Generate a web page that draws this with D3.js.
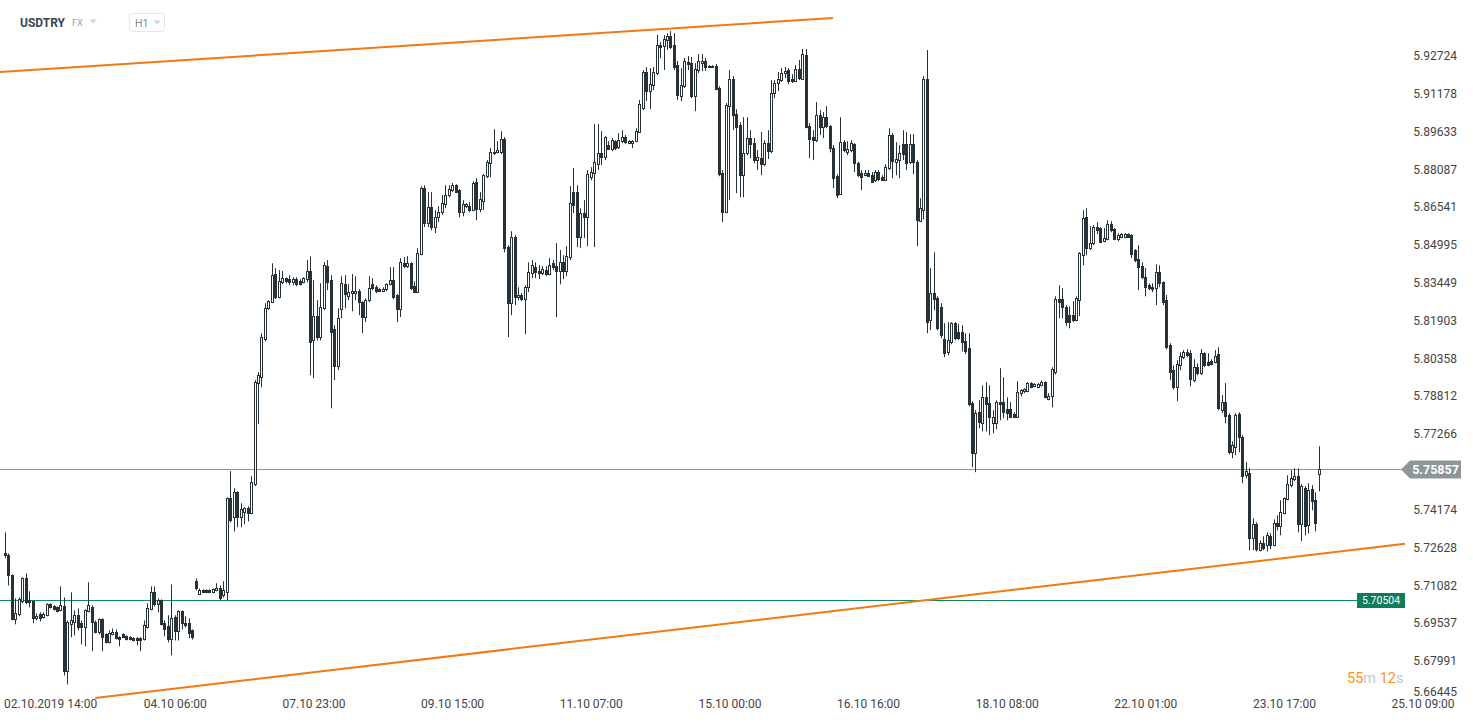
<!DOCTYPE html>
<html><head><meta charset="utf-8">
<script src="https://cdn.jsdelivr.net/npm/d3@7"></script>
<style>
body{margin:0;background:#fff;overflow:hidden}
text{font-family:Roboto,"Noto Sans",sans-serif}
</style>
</head><body>
<svg id="c" width="1473" height="723"></svg>
<script>
const symbol = "USDTRY", market = "FX", interval = "H1";
const yTickLabels = ["5.92724","5.91178","5.89633","5.88087","5.86541","5.84995","5.83449","5.81903","5.80358","5.78812","5.77266","5.74174","5.72628","5.71082","5.69537","5.67991","5.66445"];
const xTickIndex = [9,49,89,129,169,209,249,289,329,369,409];
const xTickLabels = ["02.10.2019 14:00","04.10 06:00","07.10 23:00","09.10 15:00","11.10 07:00","15.10 00:00","16.10 16:00","18.10 08:00","22.10 01:00","23.10 17:00","25.10 09:00"];
const lastPrice = 5.75857;
const levelPrice = 5.70504;
const countdown = [["55","num"],["m","unit"],[" 12","num"],["s","unit"]];
const trendUpper = [[-1.44,5.9207],[238.9,5.9428]];
const trendLower = [[26.0,5.6648],[403.9,5.7278]];
// hourly candles: [open, high, low, close]
const ohlc = [
[5.7239,5.7325,5.7219,5.7231],[5.7231,5.7239,5.7108,5.7149],[5.7149,5.7153,5.6965,5.6969],[5.6969,5.7055,5.6949,5.6994],[5.6990,5.7059,5.6982,5.7051],
[5.7043,5.7141,5.7035,5.7137],[5.7137,5.7157,5.7031,5.7039],[5.7047,5.7084,5.7018,5.7039],[5.7043,5.7047,5.6953,5.6973],[5.6973,5.6994,5.6965,5.6982],
[5.6990,5.6998,5.6961,5.6973],[5.6978,5.6998,5.6973,5.6990],[5.6986,5.7035,5.6982,5.7031],[5.7031,5.7035,5.7014,5.7018],[5.7022,5.7027,5.7006,5.7010],
[5.7018,5.7022,5.6998,5.7002],[5.7006,5.7104,5.7002,5.7027],[5.7022,5.7059,5.6740,5.6757],[5.6757,5.6965,5.6703,5.6957],[5.6949,5.7080,5.6896,5.6965],
[5.6957,5.7006,5.6904,5.6986],[5.6986,5.7014,5.6924,5.6937],[5.6953,5.6965,5.6867,5.6937],[5.6937,5.7010,5.6859,5.7006],[5.7002,5.7121,5.6998,5.7027],
[5.7018,5.7027,5.6839,5.6957],[5.6957,5.6965,5.6912,5.6916],[5.6916,5.6973,5.6908,5.6969],[5.6969,5.6973,5.6839,5.6896],[5.6908,5.6912,5.6871,5.6875],
[5.6875,5.6924,5.6871,5.6912],[5.6908,5.6932,5.6904,5.6916],[5.6916,5.6928,5.6887,5.6892],[5.6896,5.6900,5.6859,5.6887],[5.6908,5.6912,5.6892,5.6896],
[5.6900,5.6904,5.6883,5.6887],[5.6896,5.6900,5.6883,5.6887],[5.6892,5.6896,5.6879,5.6883],[5.6892,5.6896,5.6863,5.6883],[5.6892,5.6896,5.6839,5.6883],
[5.6887,5.6965,5.6883,5.6945],[5.6937,5.7035,5.6932,5.7014],[5.7010,5.7104,5.7006,5.7080],[5.7080,5.7104,5.7022,5.7031],[5.7031,5.7055,5.6998,5.7047],
[5.7047,5.7051,5.6945,5.6949],[5.6953,5.6965,5.6900,5.6928],[5.6941,5.6986,5.6875,5.6887],[5.6887,5.7112,5.6822,5.6973],[5.6978,5.6986,5.6883,5.6920],
[5.6920,5.7006,5.6883,5.7002],[5.7002,5.7006,5.6928,5.6953],[5.6953,5.6982,5.6937,5.6945],[5.6953,5.6973,5.6892,5.6912],[5.6924,5.6928,5.6887,5.6896],
[5.7125,5.7137,5.7088,5.7096],[5.7072,5.7096,5.7068,5.7088],[5.7088,5.7092,5.7076,5.7080],[5.7088,5.7092,5.7076,5.7080],[5.7088,5.7092,5.7076,5.7080],
[5.7080,5.7096,5.7076,5.7092],[5.7088,5.7117,5.7084,5.7096],[5.7096,5.7108,5.7047,5.7055],[5.7068,5.7125,5.7059,5.7088],[5.7080,5.7468,5.7047,5.7464],
[5.7464,5.7575,5.7366,5.7374],[5.7387,5.7505,5.7329,5.7489],[5.7489,5.7493,5.7346,5.7387],[5.7387,5.7444,5.7346,5.7419],[5.7407,5.7427,5.7358,5.7423],
[5.7423,5.7431,5.7370,5.7403],[5.7403,5.7554,5.7399,5.7530],[5.7522,5.7947,5.7514,5.7939],[5.7935,5.7980,5.7767,5.7967],[5.7959,5.8139,5.7918,5.8123],
[5.8115,5.8262,5.8106,5.8241],[5.8241,5.8274,5.8233,5.8270],[5.8266,5.8425,5.8262,5.8376],[5.8380,5.8405,5.8278,5.8286],[5.8286,5.8397,5.8282,5.8351],
[5.8347,5.8393,5.8339,5.8364],[5.8364,5.8368,5.8343,5.8351],[5.8360,5.8376,5.8335,5.8347],[5.8347,5.8368,5.8335,5.8360],[5.8360,5.8368,5.8331,5.8339],
[5.8351,5.8360,5.8335,5.8339],[5.8347,5.8368,5.8343,5.8364],[5.8360,5.8438,5.8347,5.8393],[5.8393,5.8454,5.7967,5.8102],[5.8110,5.8356,5.7955,5.8209],
[5.8209,5.8274,5.8110,5.8123],[5.8123,5.8343,5.8110,5.8245],[5.8241,5.8430,5.8233,5.8417],[5.8413,5.8438,5.8315,5.8347],[5.8356,5.8376,5.7832,5.8143],
[5.8155,5.8172,5.7947,5.8004],[5.8004,5.8241,5.7988,5.8200],[5.8237,5.8372,5.8200,5.8343],[5.8339,5.8376,5.8241,5.8299],[5.8290,5.8339,5.8274,5.8307],
[5.8303,5.8381,5.8229,5.8311],[5.8303,5.8372,5.8274,5.8311],[5.8311,5.8319,5.8213,5.8266],[5.8266,5.8270,5.8139,5.8205],[5.8205,5.8282,5.8184,5.8274],
[5.8274,5.8372,5.8266,5.8323],[5.8339,5.8364,5.8315,5.8323],[5.8327,5.8335,5.8303,5.8311],[5.8319,5.8323,5.8307,5.8311],[5.8311,5.8327,5.8307,5.8319],
[5.8319,5.8343,5.8311,5.8339],[5.8339,5.8409,5.8335,5.8356],[5.8356,5.8409,5.8278,5.8286],[5.8295,5.8299,5.8184,5.8237],[5.8237,5.8446,5.8205,5.8429],
[5.8425,5.8450,5.8405,5.8413],[5.8413,5.8454,5.8405,5.8425],[5.8425,5.8429,5.8315,5.8323],[5.8331,5.8351,5.8303,5.8307],[5.8307,5.8487,5.8303,5.8466],
[5.8462,5.8740,5.8458,5.8732],[5.8732,5.8744,5.8573,5.8589],[5.8589,5.8716,5.8573,5.8654],[5.8654,5.8716,5.8560,5.8573],[5.8573,5.8642,5.8548,5.8613],
[5.8613,5.8658,5.8593,5.8634],[5.8634,5.8704,5.8622,5.8671],[5.8667,5.8744,5.8650,5.8704],[5.8704,5.8744,5.8695,5.8728],[5.8724,5.8753,5.8716,5.8744],
[5.8744,5.8748,5.8712,5.8716],[5.8724,5.8728,5.8613,5.8634],[5.8634,5.8683,5.8617,5.8667],[5.8658,5.8671,5.8650,5.8667],[5.8658,5.8675,5.8634,5.8642],
[5.8642,5.8761,5.8638,5.8753],[5.8757,5.8773,5.8601,5.8646],[5.8646,5.8716,5.8634,5.8687],[5.8679,5.8789,5.8642,5.8785],[5.8781,5.8847,5.8773,5.8839],
[5.8834,5.8896,5.8777,5.8879],[5.8879,5.8973,5.8867,5.8875],[5.8879,5.8924,5.8875,5.8888],[5.8879,5.8965,5.8871,5.8932],[5.8932,5.8941,5.8470,5.8487],
[5.8491,5.8499,5.8123,5.8262],[5.8262,5.8556,5.8213,5.8532],[5.8532,5.8540,5.8254,5.8286],[5.8286,5.8327,5.8274,5.8295],[5.8295,5.8303,5.8270,5.8278],
[5.8278,5.8335,5.8135,5.8327],[5.8327,5.8429,5.8307,5.8389],[5.8385,5.8438,5.8364,5.8417],[5.8409,5.8429,5.8364,5.8389],[5.8393,5.8417,5.8360,5.8385],
[5.8385,5.8413,5.8376,5.8401],[5.8397,5.8413,5.8372,5.8381],[5.8381,5.8446,5.8376,5.8417],[5.8425,5.8438,5.8397,5.8409],[5.8413,5.8507,5.8205,5.8393],
[5.8393,5.8479,5.8339,5.8429],[5.8429,5.8458,5.8360,5.8393],[5.8393,5.8495,5.8372,5.8454],[5.8450,5.8740,5.8438,5.8671],[5.8716,5.8814,5.8630,5.8663],
[5.8716,5.8744,5.8491,5.8532],[5.8532,5.8650,5.8487,5.8630],[5.8630,5.8683,5.8528,5.8613],[5.8613,5.8806,5.8495,5.8789],[5.8777,5.8818,5.8765,5.8798],
[5.8793,5.8994,5.8491,5.8839],[5.8830,5.8994,5.8806,5.8875],[5.8875,5.8965,5.8826,5.8859],[5.8859,5.8945,5.8847,5.8941],[5.8908,5.8924,5.8888,5.8892],
[5.8892,5.8937,5.8883,5.8928],[5.8924,5.8928,5.8888,5.8896],[5.8900,5.8957,5.8892,5.8928],[5.8924,5.8969,5.8916,5.8941],[5.8941,5.8949,5.8912,5.8920],
[5.8916,5.8928,5.8912,5.8924],[5.8916,5.8928,5.8896,5.8924],[5.8924,5.8977,5.8920,5.8965],[5.8961,5.9092,5.8957,5.9076],[5.9059,5.9215,5.9051,5.9207],
[5.9207,5.9227,5.9088,5.9129],[5.9129,5.9223,5.9055,5.9157],[5.9153,5.9227,5.9133,5.9207],[5.9202,5.9358,5.9194,5.9317],[5.9317,5.9329,5.9264,5.9309],
[5.9313,5.9358,5.9215,5.9341],[5.9337,5.9366,5.9297,5.9354],[5.9354,5.9374,5.9301,5.9309],[5.9317,5.9366,5.9215,5.9227],[5.9235,5.9252,5.9092,5.9112],
[5.9108,5.9223,5.9088,5.9153],[5.9149,5.9264,5.9141,5.9252],[5.9247,5.9272,5.9215,5.9239],[5.9243,5.9268,5.9100,5.9108],[5.9108,5.9243,5.9047,5.9219],
[5.9215,5.9280,5.9202,5.9252],[5.9243,5.9280,5.9211,5.9252],[5.9252,5.9264,5.9211,5.9227],[5.9227,5.9235,5.9223,5.9231],[5.9227,5.9235,5.9223,5.9231],
[5.9231,5.9239,5.9133,5.9137],[5.9141,5.9149,5.8781,5.8789],[5.8793,5.8806,5.8593,5.8634],[5.8634,5.9080,5.8630,5.9072],[5.9067,5.9215,5.8683,5.9178],
[5.9178,5.9190,5.8969,5.9031],[5.9035,5.9055,5.8712,5.8982],[5.8990,5.9002,5.8695,5.8785],[5.8785,5.9022,5.8695,5.8875],[5.8875,5.9022,5.8867,5.8937],
[5.8937,5.8969,5.8855,5.8912],[5.8916,5.8937,5.8834,5.8847],[5.8847,5.8888,5.8806,5.8859],[5.8855,5.8961,5.8785,5.8830],[5.8830,5.8928,5.8822,5.8916],
[5.8916,5.8969,5.8851,5.8883],[5.8883,5.9174,5.8875,5.9121],[5.9121,5.9174,5.9100,5.9162],[5.9162,5.9207,5.9129,5.9178],[5.9174,5.9223,5.9166,5.9202],
[5.9202,5.9227,5.9182,5.9211],[5.9215,5.9223,5.9157,5.9170],[5.9178,5.9198,5.9162,5.9170],[5.9170,5.9235,5.9166,5.9219],[5.9219,5.9256,5.9174,5.9182],
[5.9178,5.9301,5.9174,5.9280],[5.9276,5.9301,5.8977,5.8982],[5.8986,5.8998,5.8855,5.8932],[5.8941,5.8969,5.8847,5.8928],[5.8928,5.9084,5.8920,5.9031],
[5.9031,5.9051,5.8949,5.8982],[5.8982,5.9043,5.8937,5.9022],[5.9022,5.9067,5.8977,5.8986],[5.8986,5.8990,5.8879,5.8896],[5.8896,5.8908,5.8732,5.8773],
[5.8781,5.8789,5.8691,5.8704],[5.8708,5.9022,5.8704,5.8920],[5.8920,5.8928,5.8879,5.8888],[5.8879,5.8924,5.8867,5.8892],[5.8888,5.8928,5.8879,5.8916],
[5.8912,5.8916,5.8798,5.8834],[5.8834,5.8839,5.8777,5.8785],[5.8793,5.8806,5.8724,5.8777],[5.8785,5.8806,5.8781,5.8793],[5.8793,5.8806,5.8777,5.8781],
[5.8785,5.8798,5.8753,5.8757],[5.8765,5.8806,5.8757,5.8798],[5.8798,5.8806,5.8761,5.8769],[5.8777,5.8785,5.8761,5.8765],[5.8765,5.8830,5.8761,5.8818],
[5.8814,5.8977,5.8806,5.8949],[5.8949,5.8957,5.8773,5.8843],[5.8839,5.8920,5.8785,5.8851],[5.8847,5.8908,5.8773,5.8875],[5.8912,5.8969,5.8847,5.8871],
[5.8912,5.8961,5.8806,5.8834],[5.8839,5.8953,5.8830,5.8912],[5.8912,5.8953,5.8789,5.8839],[5.8839,5.8847,5.8495,5.8601],[5.8597,5.8691,5.8593,5.8650],
[5.8642,5.9190,5.8605,5.9178],[5.9178,5.9297,5.8139,5.8184],[5.8192,5.8405,5.8151,5.8303],[5.8303,5.8470,5.8233,5.8278],[5.8282,5.8290,5.8151,5.8159],
[5.8245,5.8262,5.8119,5.8131],[5.8115,5.8180,5.8041,5.8057],[5.8061,5.8184,5.8049,5.8110],[5.8102,5.8184,5.8094,5.8180],[5.8180,5.8184,5.8110,5.8119],
[5.8143,5.8176,5.8110,5.8119],[5.8143,5.8172,5.8065,5.8102],[5.8106,5.8139,5.8053,5.8065],[5.8078,5.8139,5.7840,5.7849],[5.7853,5.7861,5.7591,5.7648],
[5.7648,5.7824,5.7571,5.7812],[5.7816,5.7865,5.7751,5.7775],[5.7771,5.7926,5.7738,5.7877],[5.7877,5.7939,5.7738,5.7849],[5.7853,5.7926,5.7722,5.7796],
[5.7771,5.7824,5.7730,5.7796],[5.7771,5.7865,5.7746,5.7857],[5.7857,5.7996,5.7783,5.7849],[5.7857,5.7959,5.7792,5.7816],[5.7828,5.7877,5.7783,5.7812],
[5.7828,5.7857,5.7792,5.7796],[5.7808,5.7816,5.7792,5.7796],[5.7796,5.7943,5.7792,5.7898],[5.7894,5.7910,5.7881,5.7906],[5.7902,5.7914,5.7894,5.7910],
[5.7902,5.7939,5.7898,5.7935],[5.7935,5.7939,5.7914,5.7918],[5.7922,5.7935,5.7918,5.7931],[5.7918,5.7935,5.7914,5.7931],[5.7926,5.7947,5.7922,5.7939],
[5.7939,5.7943,5.7873,5.7877],[5.7869,5.7894,5.7865,5.7881],[5.7881,5.8000,5.7836,5.7992],[5.7980,5.8290,5.7971,5.8278],[5.8278,5.8335,5.8200,5.8266],
[5.8278,5.8323,5.8200,5.8245],[5.8245,5.8254,5.8168,5.8184],[5.8213,5.8249,5.8159,5.8184],[5.8213,5.8270,5.8184,5.8192],[5.8192,5.8290,5.8188,5.8282],
[5.8274,5.8470,5.8209,5.8466],[5.8458,5.8642,5.8417,5.8609],[5.8613,5.8650,5.8458,5.8487],[5.8487,5.8577,5.8479,5.8507],[5.8507,5.8581,5.8499,5.8573],
[5.8573,5.8593,5.8544,5.8560],[5.8569,5.8573,5.8507,5.8511],[5.8515,5.8569,5.8511,5.8528],[5.8524,5.8601,5.8519,5.8585],[5.8585,5.8597,5.8552,5.8560],
[5.8564,5.8569,5.8519,5.8524],[5.8524,5.8548,5.8515,5.8540],[5.8532,5.8548,5.8528,5.8544],[5.8532,5.8548,5.8528,5.8544],[5.8544,5.8548,5.8528,5.8532],
[5.8540,5.8544,5.8446,5.8462],[5.8479,5.8483,5.8429,5.8438],[5.8442,5.8499,5.8315,5.8409],[5.8413,5.8429,5.8360,5.8368],[5.8368,5.8405,5.8290,5.8327],
[5.8335,5.8343,5.8315,5.8323],[5.8327,5.8343,5.8307,5.8319],[5.8323,5.8421,5.8254,5.8389],[5.8389,5.8417,5.8327,5.8343],[5.8347,5.8351,5.8254,5.8266],
[5.8274,5.8295,5.8074,5.8082],[5.8090,5.8098,5.7947,5.7980],[5.7988,5.8008,5.7910,5.7918],[5.7918,5.8029,5.7861,5.8012],[5.8008,5.8061,5.7988,5.8045],
[5.8041,5.8070,5.8033,5.8061],[5.8061,5.8074,5.8041,5.8049],[5.8057,5.8070,5.7922,5.7951],[5.7947,5.8033,5.7939,5.8000],[5.8000,5.8016,5.7967,5.7975],
[5.7975,5.8074,5.7967,5.8057],[5.8057,5.8061,5.8000,5.8008],[5.8020,5.8057,5.8004,5.8008],[5.8025,5.8033,5.8008,5.8012],[5.8020,5.8070,5.8016,5.8045],
[5.8053,5.8082,5.7824,5.7832],[5.7824,5.7886,5.7812,5.7857],[5.7857,5.7935,5.7771,5.7800],[5.7804,5.7812,5.7644,5.7652],[5.7652,5.7697,5.7628,5.7681],
[5.7673,5.7812,5.7640,5.7804],[5.7808,5.7816,5.7652,5.7714],[5.7714,5.7722,5.7526,5.7554],[5.7558,5.7612,5.7546,5.7575],[5.7567,5.7587,5.7252,5.7300],
[5.7300,5.7382,5.7252,5.7358],[5.7358,5.7366,5.7247,5.7256],[5.7252,5.7292,5.7247,5.7280],[5.7280,5.7309,5.7252,5.7260],[5.7272,5.7325,5.7247,5.7313],
[5.7309,5.7321,5.7256,5.7272],[5.7272,5.7378,5.7268,5.7362],[5.7362,5.7395,5.7333,5.7350],[5.7350,5.7456,5.7313,5.7407],[5.7403,5.7468,5.7399,5.7464],
[5.7460,5.7558,5.7456,5.7522],[5.7518,5.7579,5.7509,5.7546],[5.7542,5.7587,5.7534,5.7554],[5.7554,5.7587,5.7325,5.7358],[5.7358,5.7522,5.7288,5.7514],
[5.7505,5.7514,5.7313,5.7350],[5.7354,5.7526,5.7321,5.7497],[5.7501,5.7518,5.7415,5.7452],[5.7456,5.7489,5.7329,5.7362],[5.7563,5.7677,5.7493,5.75857]
];

const svg = d3.select("#c");
const ink = "#263238";
const x = d3.scaleLinear().domain([0, 409]).range([5, 1422.6]);
const y = d3.scaleLinear().domain([5.66445, 5.92724]).range([698.8, 56]);
const crisp = v => Math.round(v) + 0.5;

// header
const hdr = svg.append("g");
hdr.append("text").attr("x", 20).attr("y", 27).attr("font-size", 12).attr("font-weight", "bold").attr("fill", "#37474f").text(symbol);
hdr.append("text").attr("x", 72).attr("y", 26).attr("font-size", 9).attr("fill", "#90a4ae").text(market);
hdr.append("path").attr("d", "M89,19.5 L97,19.5 L93,23.5 Z").attr("fill", "#cfd8dc");
hdr.append("rect").attr("x", 129.5).attr("y", 13.5).attr("width", 35).attr("height", 18).attr("rx", 3).attr("fill", "#fff").attr("stroke", "#e3e6e8");
hdr.append("text").attr("x", 135).attr("y", 27).attr("font-size", 10.5).attr("fill", "#78909c").text(interval);
hdr.append("path").attr("d", "M153,20.5 L161,20.5 L157,24.5 Z").attr("fill", "#cfd8dc");

// horizontal level lines
svg.append("line").attr("x1", 0).attr("x2", 1357).attr("y1", crisp(y(levelPrice))).attr("y2", crisp(y(levelPrice)))
  .attr("stroke", "#138a62").attr("stroke-width", 1);
svg.append("line").attr("x1", 0).attr("x2", 1402).attr("y1", crisp(y(lastPrice))).attr("y2", crisp(y(lastPrice)))
  .attr("stroke", "#8d979b").attr("stroke-width", 1);

// candles
const cg = svg.append("g");
ohlc.forEach((d, i) => {
  const [o, h, l, c] = d;
  const cx = Math.round(x(i));
  cg.append("line").attr("x1", cx + 0.5).attr("x2", cx + 0.5).attr("y1", y(h)).attr("y2", y(l))
    .attr("stroke", ink).attr("stroke-width", 1);
  const top = Math.round(y(Math.max(o, c))) + 0.5;
  const bot = Math.round(y(Math.min(o, c))) + 0.5;
  const up = c >= o;
  cg.append("rect").attr("x", cx - 0.5).attr("y", top).attr("width", 2).attr("height", Math.max(1, bot - top))
    .attr("fill", up ? "#fff" : ink).attr("stroke", ink).attr("stroke-width", 1);
});

// trend lines
const tl = d3.line().x(d => x(d[0])).y(d => y(d[1]));
[trendUpper, trendLower].forEach(t => {
  svg.append("path").attr("d", tl(t)).attr("fill", "none").attr("stroke", "#f07a14").attr("stroke-width", 2);
});

// y axis
const yAxis = d3.axisRight(y).tickValues(yTickLabels.map(Number)).tickFormat((d, i) => yTickLabels[i]).tickSize(0);
const ya = svg.append("g").attr("transform", "translate(1457,0)").call(yAxis);
ya.select(".domain").remove();
ya.selectAll("text").attr("x", 0).attr("text-anchor", "end").attr("font-size", 12).attr("fill", "#444")
  .attr("font-family", "Roboto, 'Noto Sans', sans-serif")
  .attr("dy", "0.35em");
ya.selectAll(".tick").attr("transform", d => "translate(0," + Math.min(y(d), 692) + ")");

// x axis
const xAxis = d3.axisBottom(x).tickValues(xTickIndex).tickFormat((d, i) => xTickLabels[i]).tickSize(0);
const xa = svg.append("g").attr("transform", "translate(0,699)").call(xAxis);
xa.select(".domain").remove();
xa.selectAll("text").attr("y", 9).attr("dy", 0).attr("font-size", 12).attr("fill", "#444")
  .attr("font-family", "Roboto, 'Noto Sans', sans-serif");
xa.selectAll(".tick").filter((d, i) => i === 0).attr("transform", "translate(4,0)").select("text").attr("text-anchor", "start");

// last price tag
const ly = crisp(y(lastPrice));
svg.append("path").attr("d", `M1401,${ly} L1410,${ly - 9} L1461,${ly - 9} L1461,${ly + 9} L1410,${ly + 9} Z`).attr("fill", "#8d979b");
svg.append("text").attr("x", 1435.5).attr("y", ly).attr("dy", "0.36em").attr("text-anchor", "middle")
  .attr("font-size", 12.5).attr("font-weight", "bold").attr("fill", "#fff").text(lastPrice.toFixed(5));

// level tag
const gy = crisp(y(levelPrice));
svg.append("rect").attr("x", 1357).attr("y", gy - 7.5).attr("width", 48).attr("height", 15).attr("fill", "#0e7d5b");
svg.append("text").attr("x", 1381).attr("y", gy).attr("dy", "0.36em").attr("text-anchor", "middle")
  .attr("font-size", 10.5).attr("fill", "#fff").text(levelPrice.toFixed(5));

// countdown
const ct = svg.append("text").attr("x", 1347).attr("y", 683).attr("font-size", 14.5);
countdown.forEach(([t, k]) => ct.append("tspan").attr("fill", k === "num" ? "#f7941d" : "#c3c7c9").text(t));
</script>
</body></html>
